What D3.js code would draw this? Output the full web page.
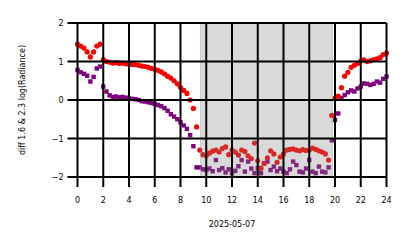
<!DOCTYPE html>
<html>
<head>
<meta charset="utf-8">
<script src="https://cdn.jsdelivr.net/npm/d3@7"></script>
<style>
  body { margin: 0; background: #fff; }
  text { font-family: "DejaVu Sans", sans-serif; font-size: 8px; fill: #000; }
</style>
</head>
<body>
<div id="chart"></div>
<script>
// readings every 15 minutes, 00:00 to 24:00
const hours = d3.range(0, 24.001, 0.25);

const red = [
  1.45, 1.40, 1.35, 1.25, 1.12, 1.25, 1.40, 1.45, 1.05, 1.00, 0.98, 0.96,
  0.97, 0.95, 0.96, 0.94, 0.93, 0.92, 0.92, 0.90, 0.88, 0.87, 0.85, 0.82,
  0.80, 0.77, 0.73, 0.68, 0.62, 0.57, 0.50, 0.42, 0.33, 0.25, 0.17, 0.00,
  -0.22, -0.70, -1.30, -1.42, -1.45, -1.38, -1.33, -1.30, -1.35, -1.26, -1.22, -1.42,
  -1.30, -1.35, -1.43, -1.30, -1.34, -1.45, -1.52, -1.12, -1.58, -1.77, -1.65, -1.50,
  -1.32, -1.40, -1.62, -1.48, -1.40, -1.30, -1.28, -1.27, -1.30, -1.32, -1.29, -1.31,
  -1.30, -1.25, -1.28, -1.32, -1.35, -1.40, -1.56, -0.40, 0.05, 0.10, 0.32, 0.62,
  0.72, 0.85, 0.90, 0.95, 1.02, 1.04, 1.00, 1.02, 1.05, 1.07, 1.10, 1.18, 1.22
];

const purple = [
  0.78, 0.72, 0.68, 0.63, 0.48, 0.60, 0.82, 0.87, 0.35, 0.22, 0.12, 0.08,
  0.09, 0.07, 0.08, 0.06, 0.04, 0.03, 0.02, 0.00, -0.03, -0.04, -0.06, -0.08,
  -0.10, -0.13, -0.16, -0.21, -0.28, -0.37, -0.43, -0.50, -0.58, -0.66, -0.75, -0.91,
  -1.20, -1.75, -1.75, -1.80, -1.82, -1.78, -1.85, -1.56, -1.82, -1.77, -1.88, -1.80,
  -1.90, -1.84, -1.72, -1.56, -1.86, -1.60, -1.78, -1.90, -1.77, -1.90, -1.64, -1.60,
  -1.82, -1.73, -1.85, -1.78, -1.86, -1.90, -1.80, -1.60, -1.69, -1.86, -1.88, -1.78,
  -1.56, -1.86, -1.90, -1.73, -1.86, -1.88, -1.75, -1.05, -0.52, -0.35, 0.05, 0.13,
  0.20, 0.25, 0.22, 0.30, 0.35, 0.43, 0.42, 0.39, 0.42, 0.48, 0.45, 0.55, 0.61
];

const shade = [9.55, 19.8];
const xTicks = d3.range(0, 25, 2);
const yTicks = [2, 1, 0, -1, -2];
const xLabel = '2025-05-07';
const yLabel = 'diff 1.6 & 2.3  log(Radiance)';

const W = 414, H = 248;
const margin = {top: 23, right: 27.5, bottom: 71, left: 77.5};
const tickLen = 10;

const svg = d3.select('#chart').append('svg')
  .attr('width', W)
  .attr('height', H);

const x = d3.scaleLinear().domain([0, 24]).range([margin.left, W - margin.right]);
const y = d3.scaleLinear().domain([-2, 2]).range([H - margin.bottom, margin.top]);

const pts = hours.map((h, i) => ({h, r: red[i], p: purple[i]}));

// points
svg.append('g').selectAll('rect')
  .data(pts).enter().append('rect')
  .attr('x', d => x(d.h) - 2.2)
  .attr('y', d => y(d.p) - 2.2)
  .attr('width', 4.4)
  .attr('height', 4.4)
  .attr('fill', '#800080');

svg.append('g').selectAll('circle')
  .data(pts).enter().append('circle')
  .attr('cx', d => x(d.h))
  .attr('cy', d => y(d.r))
  .attr('r', 2.6)
  .attr('fill', '#ff0000');

// night shading over the points
svg.append('rect')
  .attr('x', x(shade[0]))
  .attr('y', y(2))
  .attr('width', x(shade[1]) - x(shade[0]))
  .attr('height', y(-2) - y(2))
  .attr('fill', '#808080')
  .attr('fill-opacity', 0.3)
  .attr('stroke', '#808080')
  .attr('stroke-opacity', 0.3)
  .attr('stroke-width', 1);

// grid + long ticks
const grid = svg.append('g').attr('stroke', '#000').attr('stroke-width', 2);
grid.selectAll('line.v').data(xTicks).enter().append('line')
  .attr('class', 'v')
  .attr('x1', d => x(d)).attr('x2', d => x(d))
  .attr('y1', y(2)).attr('y2', y(-2) + tickLen);
grid.selectAll('line.h').data(yTicks).enter().append('line')
  .attr('class', 'h')
  .attr('y1', d => y(d)).attr('y2', d => y(d))
  .attr('x1', x(0) - tickLen).attr('x2', x(24));

// tick labels
svg.append('g').selectAll('text').data(xTicks).enter().append('text')
  .attr('x', d => x(d))
  .attr('y', y(-2) + tickLen + 16)
  .attr('text-anchor', 'middle')
  .text(d => d);

svg.append('g').selectAll('text').data(yTicks).enter().append('text')
  .attr('x', x(0) - tickLen - 4)
  .attr('y', d => y(d) + 3)
  .attr('text-anchor', 'end')
  .text(d => d < 0 ? '\u2212' + Math.abs(d) : d);

svg.append('text')
  .attr('x', (x(0) + x(24)) / 2)
  .attr('y', 227)
  .attr('text-anchor', 'middle')
  .text(xLabel);

svg.append('text')
  .attr('transform', `translate(25,${(y(2) + y(-2)) / 2}) rotate(-90)`)
  .attr('text-anchor', 'middle')
  .text(yLabel);
</script>
</body>
</html>
